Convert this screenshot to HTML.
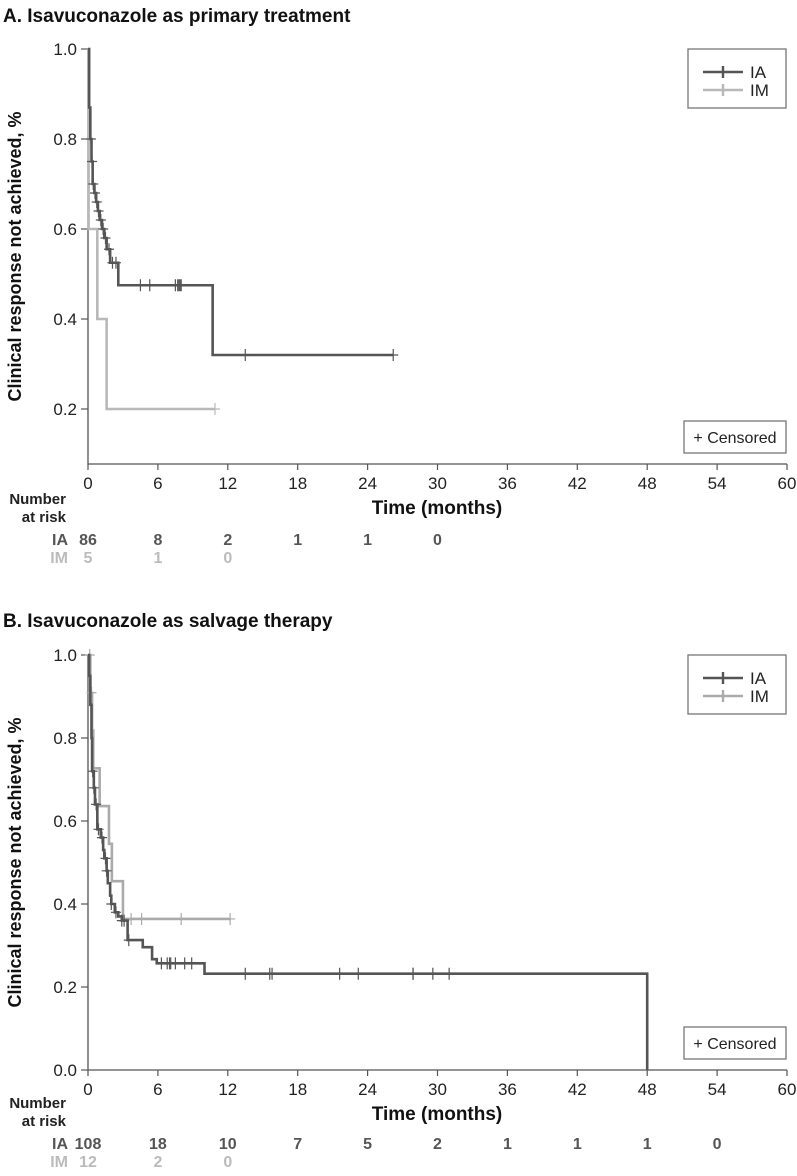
<!DOCTYPE html>
<html><head><meta charset="utf-8"><style>
body{margin:0;background:#fff;width:797px;height:1171px;overflow:hidden;font-family:"Liberation Sans",sans-serif}
svg text{font-family:"Liberation Sans",sans-serif}
</style></head><body>
<svg id="svg" width="797" height="1171"></svg>
<script>
// Panel A data
const aIATimes=[0.1,0.2,0.3,0.4,0.55,0.7,0.85,1.0,1.2,1.4,1.6,1.9,2.6,10.7];
const aIAVals=[0.87,0.80,0.75,0.70,0.68,0.66,0.64,0.62,0.60,0.58,0.555,0.525,0.475,0.32];
const aIAEnd=26.2;
const aIACens=[0.25,0.35,0.45,0.6,0.75,0.9,1.1,1.3,1.5,1.8,2.1,2.4,4.5,5.3,7.5,7.7,7.8,7.9,8.0,13.5,26.2];
const aIMTimes=[0.05,0.8,1.6];
const aIMVals=[0.6,0.4,0.2];
const aIMEnd=10.9;
const aIMCens=[10.9];
// Panel B data
const bIATimes=[0.1,0.2,0.3,0.35,0.5,0.6,0.8,1.1,1.3,1.4,1.6,1.7,1.9,2.0,2.3,2.6,2.9,3.4,4.7,5.5,5.9,10.0,48.0];
const bIAVals=[0.95,0.88,0.8,0.72,0.68,0.64,0.58,0.56,0.53,0.51,0.48,0.45,0.42,0.40,0.38,0.37,0.36,0.313,0.296,0.267,0.257,0.232,0];
const bIAEnd=48.0;
const bIACens=[0.4,0.5,0.7,0.9,1.2,1.5,1.6,2.0,2.4,2.9,3.1,3.5,6.3,6.8,7.0,7.1,7.5,8.3,8.9,13.5,15.6,15.8,21.6,23.2,27.9,27.9,29.6,31.0];
const bIMTimes=[0.2,0.35,0.45,1.0,1.8,2.05,3.0];
const bIMVals=[0.909,0.818,0.727,0.636,0.545,0.455,0.364];
const bIMEnd=12.2;
const bIMCens=[0.15,0.3,3.7,4.6,8.0,12.2];
const xTicks=[0,6,12,18,24,30,36,42,48,54,60];
const aYTicks=[0.2,0.4,0.6,0.8,1.0];
const bYTicks=[0.0,0.2,0.4,0.6,0.8,1.0];
const aRiskIA=["86","8","2","1","1","0"];
const aRiskIM=["5","1","0"];
const bRiskIA=["108","18","10","7","5","2","1","1","1","0"];
const bRiskIM=["12","2","0"];

const svg=document.getElementById('svg');
const NS='http://www.w3.org/2000/svg';
function mk(tag,attrs,parent){const e=document.createElementNS(NS,tag);for(const k in attrs)e.setAttribute(k,attrs[k]);(parent||svg).appendChild(e);return e;}
function txt(s,x,y,size,opts,parent){const e=mk('text',Object.assign({x:x,y:y,'font-size':size},opts||{}),parent);e.textContent=s;return e;}
const X0=88,X1=787;
function xs(t){return X0+t*(X1-X0)/60;}

function panel(p){
  const g=mk('g',{});
  
  
  const yv=v=>p.yZero-v*(p.yZero-p.yOne);
  const t=txt(p.title,3,p.titleY,19,{'font-weight':'bold',fill:'#111'},g);
  
  const ax=mk('path',{d:`M${X0} ${p.yOne}V${p.axisY}H${X1}`,stroke:'#555',fill:'none','stroke-width':1.3},g);
  
  xTicks.forEach(v=>{
    mk('line',{x1:xs(v),x2:xs(v),y1:p.axisY,y2:p.axisY+6,stroke:'#555','stroke-width':1.2},g);
    const l=txt(String(v),xs(v),p.axisY+25,17,{'text-anchor':'middle',fill:'#222'},g);
    
  });
  p.yTicks.forEach(v=>{
    mk('line',{x1:X0-7,x2:X0,y1:yv(v),y2:yv(v),stroke:'#555','stroke-width':1.2},g);
    const l=txt(v.toFixed(1),X0-11,yv(v)+6,17,{'text-anchor':'end',fill:'#222'},g);
    
  });
  const yt=txt('Clinical response not achieved, %',0,0,18,{'font-weight':'bold','text-anchor':'middle',fill:'#111',transform:`translate(21 ${(p.yOne+p.axisY)/2}) rotate(-90)`},g);
  
  const xt=txt('Time (months)',437,p.axisY+50,19,{'font-weight':'bold','text-anchor':'middle',fill:'#111'},g);
  
  function series(times,vals,end,cens,color,name){
    let d=`M${xs(0)} ${yv(1)}`;
    times.forEach((tm,i)=>{d+=`H${xs(tm)}V${yv(vals[i])}`;});
    if(end>times[times.length-1])d+=`H${xs(end)}`;
    const pth=mk('path',{d:d,stroke:color,fill:'none','stroke-width':2.6},g);
    
    cens.forEach(c=>{
      let v=1;times.forEach((tm,i)=>{if(tm<=c)v=vals[i];});
      const m=mk('path',{d:`M${xs(c)} ${yv(v)-6}v12M${xs(c)-5} ${yv(v)}h10`,stroke:color,'stroke-width':1.2},g);
      
    });
  }
  series(p.imT,p.imV,p.imE,p.imC,p.imColor,'im');
  series(p.iaT,p.iaV,p.iaE,p.iaC,'#555','ia');
  const lg=mk('g',{},g);
  
  mk('rect',{x:688,y:p.legY,width:98,height:59,fill:'#fff',stroke:'#777','stroke-width':1.3},lg);
  [['IA','#555',p.legY+23],['IM',p.imColor,p.legY+41]].forEach(([n,c,y])=>{
    const e=mk('g',{},lg);
    
    
    mk('path',{d:`M703 ${y}h40M723 ${y-6}v12`,stroke:c,'stroke-width':2.4},e);
    txt(n,750,y+6,17,{fill:'#222'},e);
  });
  const cb=mk('g',{},g);
  
  mk('rect',{x:684,y:p.censY,width:102,height:32,fill:'#fff',stroke:'#777','stroke-width':1.3},cb);
  txt('+ Censored',735,p.censY+22,16,{'text-anchor':'middle',fill:'#222'},cb);
  const rt=mk('g',{},g);
  
  txt('Number',66,p.riskY,15,{'font-weight':'bold','text-anchor':'end',fill:'#222'},rt);
  txt('at risk',66,p.riskY+18,15,{'font-weight':'bold','text-anchor':'end',fill:'#222'},rt);
  txt('IA',68,p.riskY+41,16,{'font-weight':'bold','text-anchor':'end',fill:'#555'},rt);
  txt('IM',68,p.riskY+59,16,{'font-weight':'bold','text-anchor':'end',fill:'#bbb'},rt);
  p.riskIA.forEach((s,i)=>txt(s,xs(i*6),p.riskY+41,16,{'font-weight':'bold','text-anchor':'middle',fill:'#555'},rt));
  p.riskIM.forEach((s,i)=>txt(s,xs(i*6),p.riskY+59,16,{'font-weight':'bold','text-anchor':'middle',fill:'#bbb'},rt));
}
panel({name:'panel-a-primary',title:'A. Isavuconazole as primary treatment',titleY:22,yOne:49,yZero:499,axisY:464,yTicks:aYTicks,
  iaT:aIATimes,iaV:aIAVals,iaE:aIAEnd,iaC:aIACens,imT:aIMTimes,imV:aIMVals,imE:aIMEnd,imC:aIMCens,imColor:'#b8b8b8',
  legY:49,censY:421,riskY:504,riskIA:aRiskIA,riskIM:aRiskIM});
panel({name:'panel-b-salvage',title:'B. Isavuconazole as salvage therapy',titleY:627,yOne:655,yZero:1070,axisY:1070,yTicks:bYTicks,
  iaT:bIATimes,iaV:bIAVals,iaE:bIAEnd,iaC:bIACens,imT:bIMTimes,imV:bIMVals,imE:bIMEnd,imC:bIMCens,imColor:'#aaa',
  legY:655,censY:1027,riskY:1108,riskIA:bRiskIA,riskIM:bRiskIM});
</script>
</body></html>
